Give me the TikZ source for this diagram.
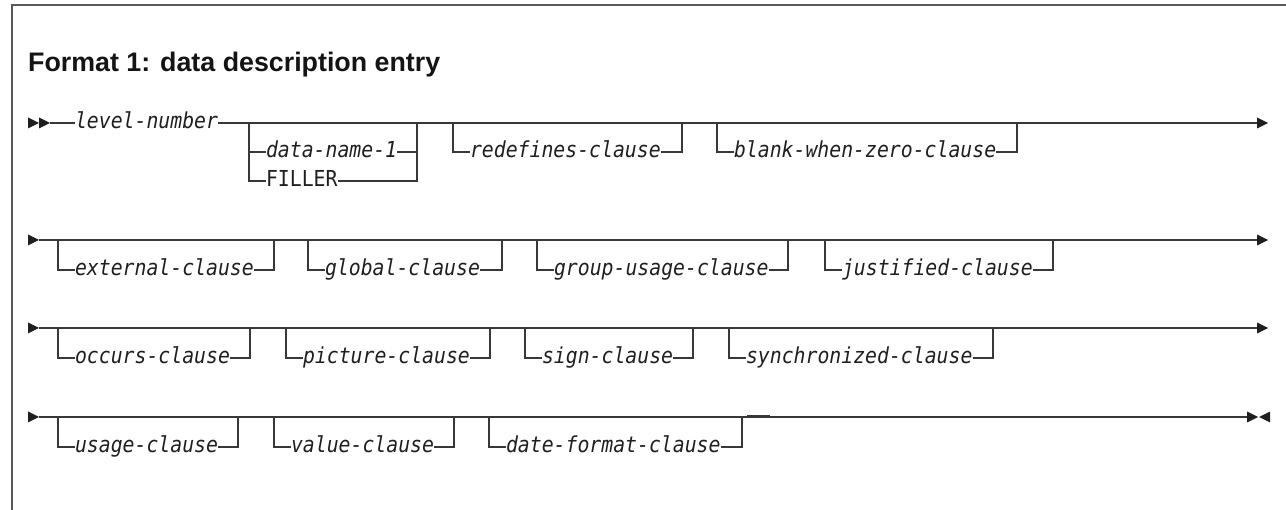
\documentclass[tikz,border=0pt]{standalone}
\usepackage{fontspec}
\setmainfont{Liberation Sans}
\newfontfamily\monof[FakeStretch=0.9]{DejaVu Sans Mono}
\begin{document}
\begin{tikzpicture}[x=1pt,y=-1pt,
  ln/.style={draw=black!78, line width=1.5pt},
  frame/.style={draw=black!65, line width=1.5pt},
  lbl/.style={anchor=west, inner sep=0pt, outer sep=0pt, text height=11.6pt, text depth=0pt, text=black!88, font=\monof\itshape\fontsize{22}{26}\selectfont},
  kw/.style={anchor=west, inner sep=0pt, outer sep=0pt, text height=11.6pt, text depth=0pt, text=black!88, font=\monof\fontsize{22}{26}\selectfont},
  rtri/.pic={\fill[black!88] (0,-5.5) -- (11,0) -- (0,5.5) -- cycle;},
  ltri/.pic={\fill[black!88] (11,-5.5) -- (0,0) -- (11,5.5) -- cycle;}]
\useasboundingbox (0,0) rectangle (1286,510);
% frame
\coordinate (fa) at (12,5);
\coordinate (fb) at (1286,5);
\coordinate (fc) at (12,510);
\draw[frame] (fb) -- (fa) -- (fc);
% title
\node[anchor=base west, inner sep=0pt, font=\bfseries\fontsize{26.8}{32}\selectfont, text=black!92] (title) at (28,72) {Format 1: data description entry};

% ---------------- Row 1 ----------------
\pic at (28,123) {rtri};
\pic at (39,123) {rtri};
\coordinate (r1s) at (50,123);
\coordinate (r1e) at (1257,123);
\pic at (1257,123) {rtri};
\node[lbl] (lvl) at (75,123) {level-number};
\draw[ln] (r1s) -- (lvl.west);
\draw[ln] (lvl.east) -- (r1e);
% data-name-1 / FILLER
\coordinate (dnL) at (249,123);
\coordinate (dnR) at (417,123);
\node[lbl] (dn) at (266,152) {data-name-1};
\node[kw] (fil) at (266,181) {FILLER};
\draw[ln] (dnL) |- (fil.west);
\draw[ln] (dnL |- dn.west) -- (dn.west);
\draw[ln] (fil.east) -| (dnR);
\draw[ln] (dn.east) -- (dnR |- dn.east);
% redefines
\coordinate (reL) at (453,123);
\coordinate (reR) at (682,123);
\node[lbl] (re) at (470,152) {redefines-clause};
\draw[ln] (reL) |- (re.west);
\draw[ln] (re.east) -| (reR);
% blank-when-zero
\coordinate (blL) at (717,123);
\coordinate (blR) at (1017,123);
\node[lbl] (bl) at (734,152) {blank-when-zero-clause};
\draw[ln] (blL) |- (bl.west);
\draw[ln] (bl.east) -| (blR);

% ---------------- Row 2 ----------------
\pic at (28,240) {rtri};
\coordinate (r2s) at (39,240);
\coordinate (r2e) at (1257,240);
\pic at (1257,240) {rtri};
\draw[ln] (r2s) -- (r2e);
\coordinate (exL) at (58,240);
\coordinate (exR) at (274,240);
\node[lbl] (ex) at (75,270) {external-clause};
\draw[ln] (exL) |- (ex.west);
\draw[ln] (ex.east) -| (exR);
\coordinate (glL) at (308,240);
\coordinate (glR) at (502,240);
\node[lbl] (gl) at (325,270) {global-clause};
\draw[ln] (glL) |- (gl.west);
\draw[ln] (gl.east) -| (glR);
\coordinate (grL) at (537,240);
\coordinate (grR) at (788,240);
\node[lbl] (gr) at (554,270) {group-usage-clause};
\draw[ln] (grL) |- (gr.west);
\draw[ln] (gr.east) -| (grR);
\coordinate (juL) at (825,240);
\coordinate (juR) at (1053,240);
\node[lbl] (ju) at (842,270) {justified-clause};
\draw[ln] (juL) |- (ju.west);
\draw[ln] (ju.east) -| (juR);

% ---------------- Row 3 ----------------
\pic at (28,328) {rtri};
\coordinate (r3s) at (39,328);
\coordinate (r3e) at (1257,328);
\pic at (1257,328) {rtri};
\draw[ln] (r3s) -- (r3e);
\coordinate (ocL) at (58,328);
\coordinate (ocR) at (250,328);
\node[lbl] (oc) at (75,358) {occurs-clause};
\draw[ln] (ocL) |- (oc.west);
\draw[ln] (oc.east) -| (ocR);
\coordinate (piL) at (286,328);
\coordinate (piR) at (490,328);
\node[lbl] (pi) at (303,358) {picture-clause};
\draw[ln] (piL) |- (pi.west);
\draw[ln] (pi.east) -| (piR);
\coordinate (siL) at (525,328);
\coordinate (siR) at (693,328);
\node[lbl] (si) at (542,358) {sign-clause};
\draw[ln] (siL) |- (si.west);
\draw[ln] (si.east) -| (siR);
\coordinate (syL) at (729,328);
\coordinate (syR) at (993,328);
\node[lbl] (sy) at (746,358) {synchronized-clause};
\draw[ln] (syL) |- (sy.west);
\draw[ln] (sy.east) -| (syR);

% ---------------- Row 4 ----------------
\pic at (28,417) {rtri};
\coordinate (r4s) at (39,417);
\coordinate (r4e) at (1247,417);
\pic at (1247,417) {rtri};
\pic at (1259,417) {ltri};
\draw[ln] (r4s) -- (r4e);
\coordinate (usL) at (58,417);
\coordinate (usR) at (238,417);
\node[lbl] (us) at (75,447) {usage-clause};
\draw[ln] (usL) |- (us.west);
\draw[ln] (us.east) -| (usR);
\coordinate (vaL) at (274,417);
\coordinate (vaR) at (454,417);
\node[lbl] (va) at (291,447) {value-clause};
\draw[ln] (vaL) |- (va.west);
\draw[ln] (va.east) -| (vaR);
\coordinate (daL) at (489,417);
\coordinate (daR) at (742,417);
\node[lbl] (da) at (506,447) {date-format-clause};
\draw[ln] (daL) |- (da.west);
\draw[ln] (da.east) -| (daR);
\coordinate (mkA) at (747,416.3);
\coordinate (mkB) at (770,416.3);
\draw[ln, line width=2.4pt] (mkA) -- (mkB);
\end{tikzpicture}
\end{document}
